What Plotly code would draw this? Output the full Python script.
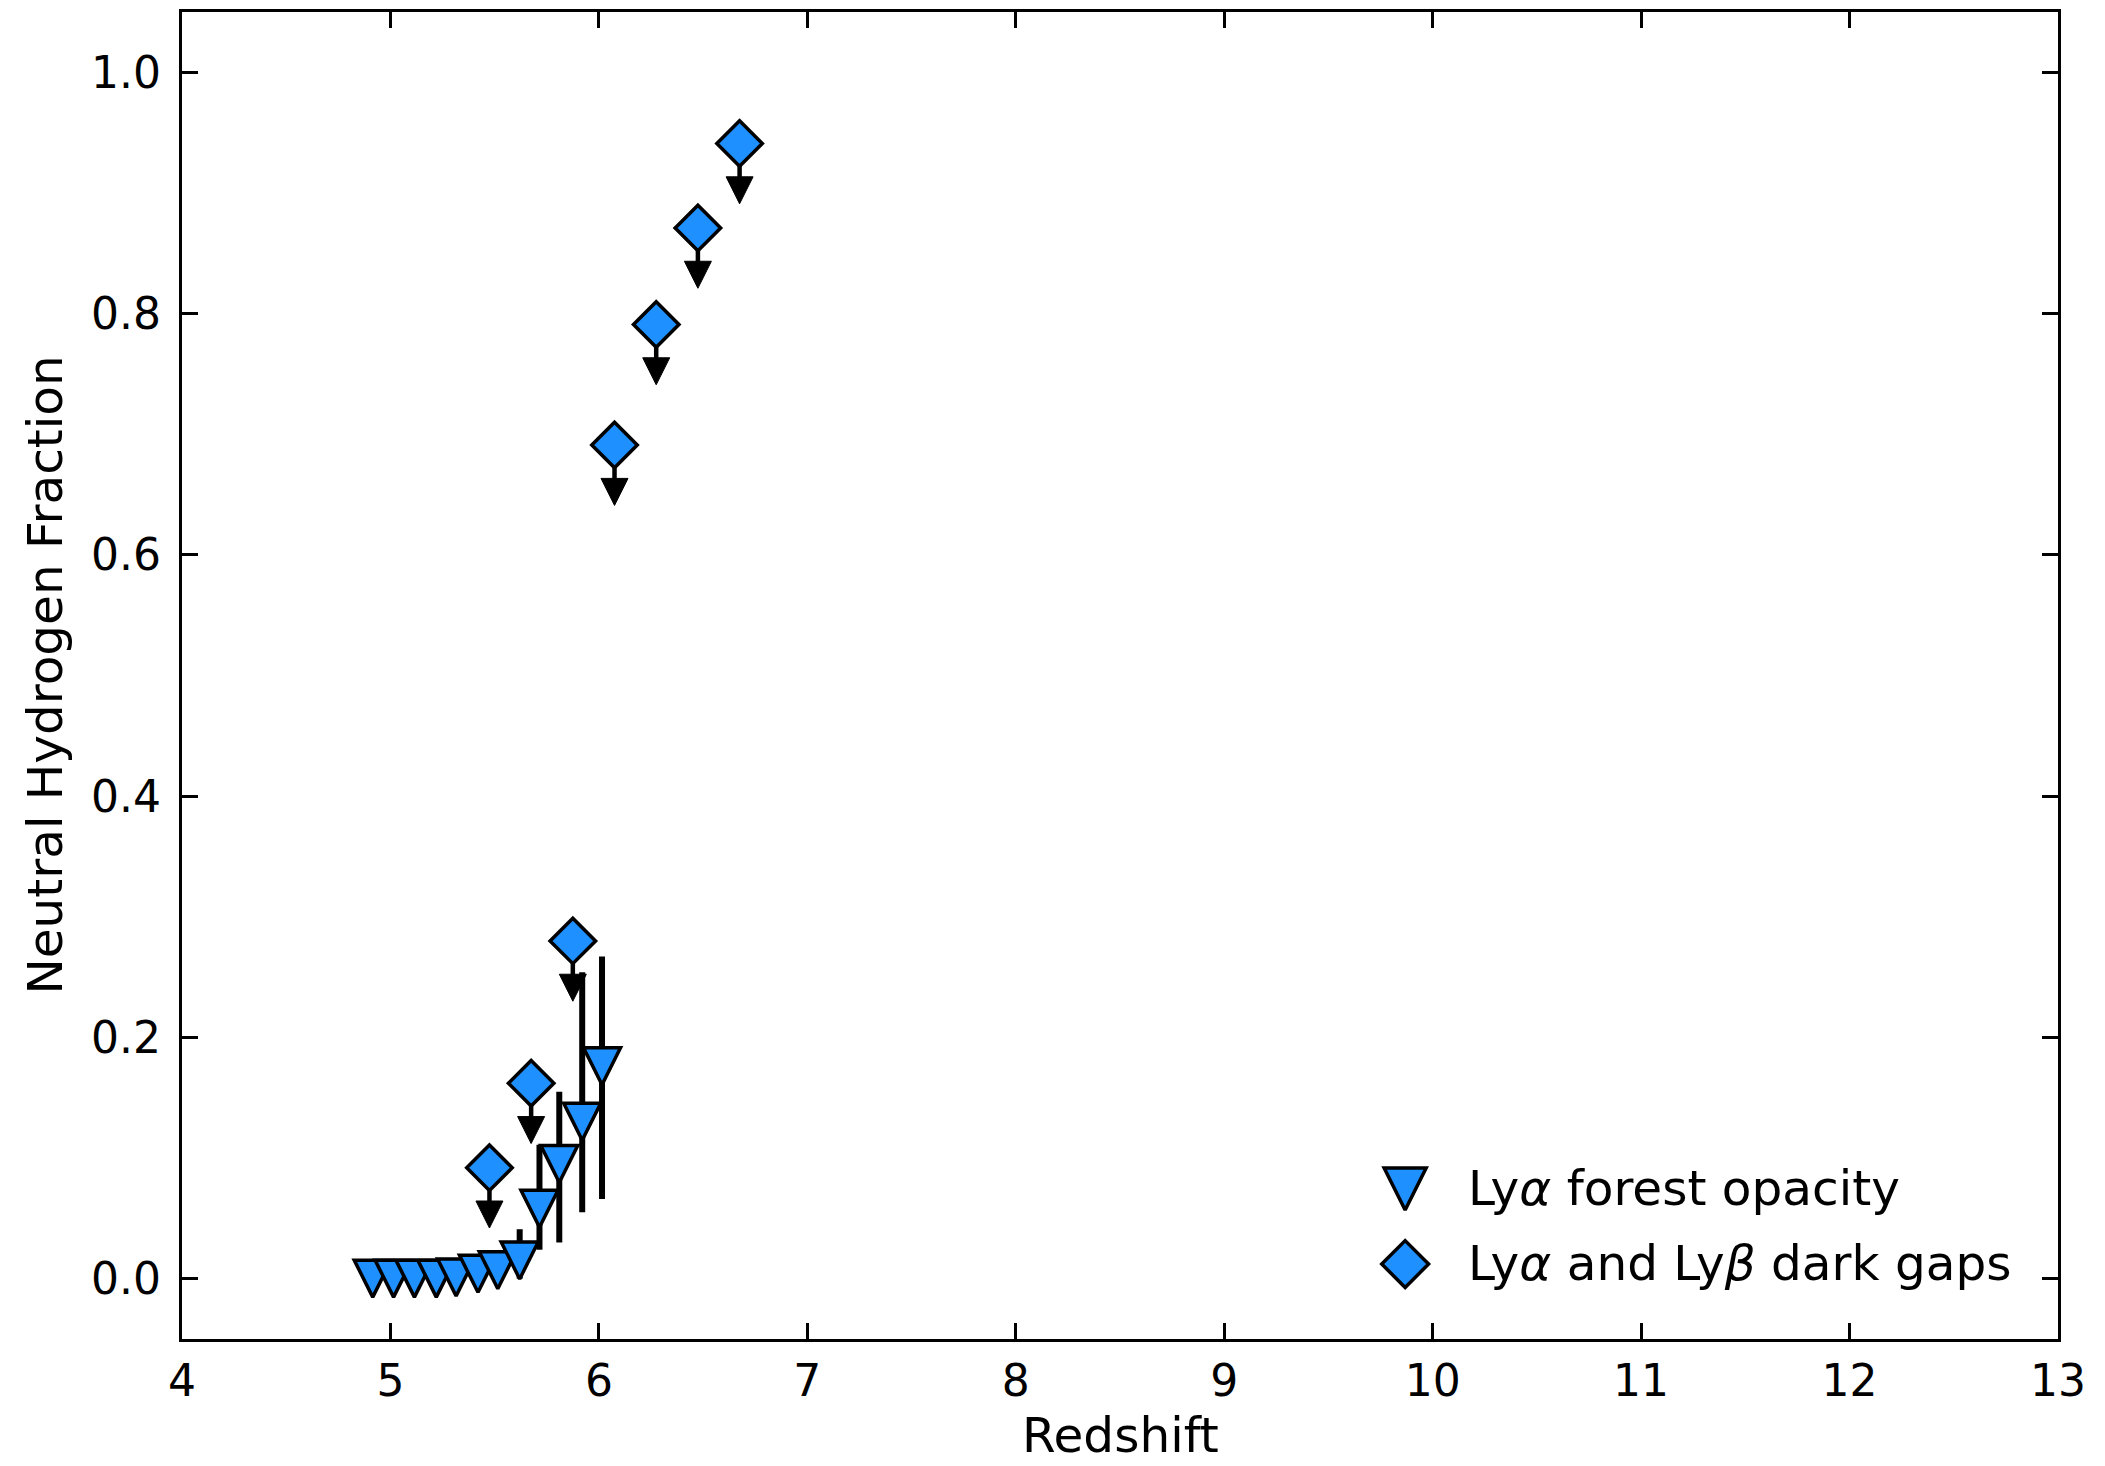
import plotly.graph_objects as go

# ---------------- data ----------------
# Lyα forest opacity (downward triangles with error bars)
z_forest = [4.915, 5.015, 5.115, 5.22, 5.315, 5.42, 5.515, 5.62, 5.715, 5.81, 5.92, 6.015]
xhi_forest = [0.000, 0.000, 0.000, 0.000, 0.001, 0.004, 0.007, 0.015, 0.058, 0.095, 0.130, 0.176]
err_forest_up = [0, 0, 0, 0, 0, 0, 0, 0.026, 0.053, 0.060, 0.124, 0.091]
err_forest_down = [0, 0, 0, 0, 0, 0, 0, 0.015, 0.034, 0.065, 0.075, 0.110]

# Lyα and Lyβ dark gaps (diamonds, upper limits)
z_gaps = [5.475, 5.675, 5.875, 6.075, 6.275, 6.475, 6.675]
xhi_gaps = [0.092, 0.162, 0.280, 0.691, 0.791, 0.871, 0.941]

x_ticks = [4, 5, 6, 7, 8, 9, 10, 11, 12, 13]
y_ticks = [0.0, 0.2, 0.4, 0.6, 0.8, 1.0]
legend_labels = ["Ly<i>α</i> forest opacity", "Ly<i>α</i> and Ly<i>β</i> dark gaps"]
x_title = "Redshift"
y_title = "Neutral Hydrogen Fraction"

# ---------------- style ----------------
W, H = 2105, 1466
ML, MR, MT, MB = 182, 47, 9, 127
XR = [4, 13]
YR = [-0.05, 1.05]
BLUE = "#1E90FF"
FONT = "DejaVu Sans"
FS_TICK = 44
FS_LABEL = 48.5
TRI_SIZE = 37
TRI_LW = 3.5
DIA_SIZE = 35
DIA_LW = 3.5
ERR_W = 6
ARROW_LEN = 0.05
HEAD_SIZE = 27

plot_h = H - MT - MB
px_per_unit = plot_h / (YR[1] - YR[0])


def tip_pos(vals, size_px, ppu):
    """arrow-down symbol is drawn with its tip at the point: shift so the glyph is centred."""
    return [v - (size_px / 2.0) / ppu for v in vals]


fig = go.Figure()

# error bars of the forest points (behind markers)
fig.add_trace(go.Scatter(
    x=z_forest, y=xhi_forest, mode="markers",
    marker=dict(size=1, color="rgba(0,0,0,0)"),
    error_y=dict(type="data", symmetric=False, array=err_forest_up,
                 arrayminus=err_forest_down, color="black",
                 thickness=ERR_W, width=0),
    showlegend=False, hoverinfo="skip"))

# forest markers (downward triangles)
fig.add_trace(go.Scatter(
    x=z_forest, y=tip_pos(xhi_forest, TRI_SIZE, px_per_unit), mode="markers",
    marker=dict(symbol="arrow-down", size=TRI_SIZE, color=BLUE,
                line=dict(color="black", width=TRI_LW)),
    showlegend=False))

# dark gap diamonds with arrow stems
fig.add_trace(go.Scatter(
    x=z_gaps, y=xhi_gaps, mode="markers",
    marker=dict(symbol="diamond", size=DIA_SIZE, color=BLUE,
                line=dict(color="black", width=DIA_LW)),
    error_y=dict(type="data", symmetric=False,
                 array=[0] * len(xhi_gaps),
                 arrayminus=[ARROW_LEN * 0.7] * len(xhi_gaps),
                 color="black", thickness=4.5, width=0),
    showlegend=False))

# arrow heads of upper limits
fig.add_trace(go.Scatter(
    x=z_gaps, y=[v - ARROW_LEN for v in xhi_gaps], mode="markers",
    marker=dict(symbol="arrow-down", size=HEAD_SIZE, color="black",
                line=dict(color="black", width=1)),
    showlegend=False, hoverinfo="skip"))

# ---------------- custom legend (auxiliary axes in plot-area fractions) ----------------
LEG_X = 0.652
LEG_Y = [0.113, 0.0565]
LEG_TRI = 42
LEG_DIA = 36
aux_ppu = plot_h
fig.add_trace(go.Scatter(
    x=[LEG_X], y=tip_pos([LEG_Y[0]], LEG_TRI, aux_ppu), xaxis="x2", yaxis="y2",
    mode="markers",
    marker=dict(symbol="arrow-down", size=LEG_TRI, color=BLUE,
                line=dict(color="black", width=TRI_LW)),
    showlegend=False, hoverinfo="skip"))
fig.add_trace(go.Scatter(
    x=[LEG_X], y=[LEG_Y[1]], xaxis="x2", yaxis="y2", mode="markers",
    marker=dict(symbol="diamond", size=LEG_DIA, color=BLUE,
                line=dict(color="black", width=DIA_LW)),
    showlegend=False, hoverinfo="skip"))

annotations = []
for lab, yy in zip(legend_labels, LEG_Y):
    annotations.append(dict(text=lab, x=0.6843, y=yy + 0.001, xref="paper", yref="paper",
                            xanchor="left", yanchor="middle", showarrow=False,
                            font=dict(family=FONT, size=FS_LABEL, color="black")))
annotations.append(dict(text=x_title, x=0.5, y=-0.0725, xref="paper", yref="paper",
                        xanchor="center", yanchor="middle", showarrow=False,
                        font=dict(family=FONT, size=FS_LABEL, color="black")))
annotations.append(dict(text=y_title, x=-0.0735, y=0.5, xref="paper", yref="paper",
                        xanchor="center", yanchor="middle", showarrow=False,
                        textangle=-90,
                        font=dict(family=FONT, size=FS_LABEL, color="black")))

axis_common = dict(showline=True, linecolor="black", linewidth=3.3,
                   ticks="inside", ticklen=16, tickwidth=3.3, tickcolor="black",
                   mirror="allticks", showgrid=False, zeroline=False,
                   tickfont=dict(family=FONT, size=FS_TICK, color="black"))

fig.update_layout(
    width=W, height=H,
    margin=dict(l=ML, r=MR, t=MT, b=MB, pad=0),
    paper_bgcolor="white", plot_bgcolor="white",
    font=dict(family=FONT, size=FS_TICK, color="black"),
    xaxis=dict(range=XR, tickvals=x_ticks, ticktext=[str(v) for v in x_ticks],
               ticklabelstandoff=1, **axis_common),
    yaxis=dict(range=YR, tickvals=y_ticks, ticktext=[f"{v:.1f}" for v in y_ticks],
               ticklabelstandoff=9, **axis_common),
    xaxis2=dict(range=[0, 1], overlaying="x", visible=False),
    yaxis2=dict(range=[0, 1], overlaying="y", visible=False),
    annotations=annotations,
    showlegend=False,
)

fig.write_html("out.html")
